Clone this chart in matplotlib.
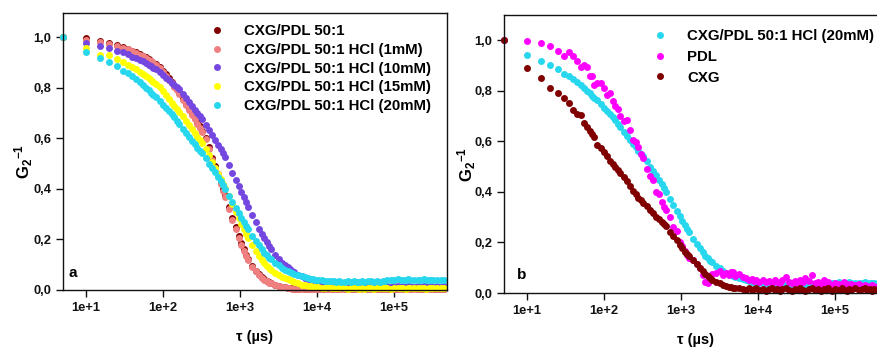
import matplotlib
matplotlib.use("Agg")
import matplotlib.pyplot as plt
from matplotlib.ticker import FixedLocator, FixedFormatter

plt.rcParams['font.family'] = ['Liberation Sans', 'DejaVu Sans']
plt.rcParams['font.weight'] = 'bold'
plt.rcParams['mathtext.fontset'] = 'custom'
plt.rcParams['mathtext.bf'] = 'Liberation Sans:bold'
plt.rcParams['mathtext.rm'] = 'Liberation Sans:bold'

# lag times (µs) of the correlator channels
tau = [5, 10, 15, 20, 25, 30, 35, 40, 45, 50, 55, 60, 65, 70, 75, 80,
       90, 100, 110, 120, 130, 140, 150, 160,
       180, 200, 220, 240, 260, 280, 300, 320,
       360, 400, 440, 480, 520, 560, 600, 640,
       720, 800, 880, 960, 1040, 1120, 1200, 1280,
       1440, 1600, 1760, 1920, 2080, 2240, 2400, 2560,
       2880, 3200, 3520, 3840, 4160, 4480, 4800, 5120,
       5760, 6400, 7040, 7680, 8320, 8960, 9600, 10240,
       11520, 12800, 14080, 15360, 16640, 17920, 19200, 20480,
       23040, 25600, 28160, 30720, 33280, 35840, 38400, 40960,
       46080, 51200, 56320, 61440, 66560, 71680, 76800, 81920,
       92160, 102400, 112640, 122880, 133120, 143360, 153600, 163840,
       184320, 204800, 225280, 245760, 266240, 286720, 307200, 327680,
       368640, 409600, 450560]

# normalised correlation functions G2-1
g_50_1 = [1.000, .995, .983, .975, .967, .959, .952, .946, .939, .932, .926, .920, .913, .906, .899, .893,
          .880, .866, .852, .837, .823, .808, .794, .780,
          .758, .737, .717, .699, .681, .664, .647, .630,
          .602, .566, .523, .489, .457, .428, .401, .376,
          .328, .286, .248, .214, .186, .161, .140, .123,
          .096, .077, .062, .051, .042, .035, .030, .026,
          .020, .016, .012, .010, .008, .007, .006, .005,
          .004, .006, .003, .005, .002, .004, .006, .003,
          .005, .003, .006, .004, .002, .005, .003, .006,
          .004, .002, .005, .003, .006, .004, .002, .005,
          .003, .006, .004, .002, .005, .003, .006, .004,
          .002, .005, .003, .006, .004, .002, .005, .003,
          .006, .004, .002, .005, .003, .006, .004, .002,
          .005, .003, .004]

g_hcl_1 = [1.000, .990, .982, .974, .966, .958, .951, .945, .938, .930, .924, .918, .911, .904, .897, .890,
           .876, .862, .847, .832, .818, .803, .789, .775,
           .752, .730, .710, .692, .674, .657, .640, .623,
           .595, .558, .515, .481, .449, .420, .393, .368,
           .320, .278, .240, .207, .179, .155, .135, .118,
           .092, .074, .060, .049, .040, .034, .029, .026,
           .020, .015, .012, .010, .008, .006, .005, .004,
           .003, .003, .002, .003, .002, .002, .003, .002,
           .002, .003, .002, .002, .003, .002, .002, .003,
           .002, .003, .002, .002, .003, .002, .003, .002,
           .002, .003, .002, .002, .003, .002, .002, .003,
           .002, .003, .002, .003, .002, .002, .003, .002,
           .002, .003, .002, .002, .003, .002, .003, .002,
           .002, .003, .002]

g_hcl_10 = [1.000, .975, .964, .955, .946, .939, .931, .923, .917, .910, .904, .897, .890, .884, .878, .872,
            .861, .850, .839, .829, .819, .810, .801, .793,
            .775, .758, .742, .728, .713, .700, .687, .675,
            .652, .631, .611, .592, .574, .557, .541, .526,
            .495, .462, .436, .410, .388, .366, .346, .328,
            .295, .267, .243, .222, .204, .188, .174, .161,
            .139, .121, .107, .097, .089, .082, .076, .070,
            .061, .054, .048, .044, .040, .037, .034, .032,
            .029, .026, .024, .022, .020, .019, .018, .017,
            .016, .015, .016, .014, .015, .013, .016, .014,
            .015, .013, .014, .016, .013, .015, .014, .016,
            .013, .015, .014, .012, .015, .013, .016, .014,
            .013, .015, .012, .014, .016, .013, .015, .012,
            .014, .013, .015]

g_hcl_15 = [1.000, .955, .928, .929, .912, .900, .888, .882, .872, .862, .852, .846, .838, .830, .822, .815,
            .803, .785, .770, .755, .741, .728, .716, .704,
            .686, .668, .652, .636, .621, .606, .592, .580,
            .556, .533, .505, .482, .459, .438, .419, .402,
            .370, .338, .310, .283, .260, .240, .222, .206,
            .178, .155, .136, .120, .107, .096, .087, .079,
            .066, .060, .053, .047, .042, .038, .034, .031,
            .026, .021, .018, .016, .014, .012, .011, .010,
            .009, .008, .010, .007, .009, .006, .008, .010,
            .007, .005, .008, .006, .009, .004, .007, .005,
            .006, .008, .005, .007, .009, .006, .008, .007,
            .005, .008, .006, .009, .007, .005, .008, .006,
            .007, .009, .006, .008, .005, .007, .009, .006,
            .008, .006, .007]

g_hcl_20 = [1.000, .940, .916, .901, .884, .866, .857, .845, .834, .822, .810, .800, .791, .779, .770, .761,
            .748, .732, .720, .706, .694, .682, .670, .658,
            .638, .620, .604, .590, .576, .562, .550, .540,
            .520, .500, .482, .466, .448, .430, .414, .399,
            .372, .348, .325, .304, .286, .269, .254, .240,
            .215, .194, .176, .161, .148, .137, .128, .121,
            .108, .097, .088, .081, .075, .070, .066, .063,
            .058, .054, .050, .047, .045, .043, .041, .040,
            .038, .037, .036, .034, .035, .033, .034, .032,
            .033, .035, .032, .034, .031, .033, .035, .032,
            .034, .036, .033, .035, .032, .034, .036, .040,
            .041, .039, .042, .040, .041, .039, .042, .040,
            .041, .039, .040, .042, .039, .041, .040, .038,
            .040, .039, .041]

g_pdl = [1.000, .996, .990, .978, .955, .937, .953, .938, .917, .895, .900, .892, .856, .858, .823, .829,
         .829, .810, .783, .789, .760, .740, .728, .700,
         .680, .683, .645, .605, .598, .578, .550, .535,
         .490, .462, .445, .400, .390, .360, .340, .330,
         .300, .260, .245, .200, .185, .165, .150, .140,
         .130, .115, .100, .070, .042, .040, .060, .075,
         .078, .085, .072, .078, .070, .082, .084, .068,
         .075, .062, .058, .050, .055, .048, .052, .045,
         .050, .042, .048, .040, .052, .045, .038, .050,
         .062, .044, .040, .046, .035, .052, .042, .058,
         .048, .070, .040, .045, .035, .050, .038, .044,
         .032, .040, .036, .030, .042, .034, .028, .036,
         .030, .034, .026, .030, .028, .024, .030, .025,
         .028, .024, .026]

g_cxg = [1.000, .890, .851, .812, .789, .772, .751, .725, .708, .704, .673, .657, .640, .627, .616, .585,
         .574, .556, .540, .522, .508, .497, .485, .475,
         .460, .443, .422, .404, .390, .376, .366, .356,
         .343, .328, .315, .302, .292, .280, .272, .265,
         .242, .225, .208, .190, .176, .162, .153, .145,
         .130, .114, .098, .088, .075, .066, .058, .051,
         .042, .038, .032, .028, .025, .022, .020, .019,
         .018, .016, .012, .018, .010, .015, .020, .012,
         .016, .008, .014, .019, .011, .017, .009, .015,
         .020, .012, .006, .016, .010, .018, .013, .008,
         .015, .021, .010, .014, .007, .017, .012, .019,
         .009, .016, .013, .020, .011, .008, .015, .012,
         .018, .010, .014, .019, .012, .016, .009, .015,
         .013, .017, .011]

labels_a = ['CXG/PDL 50:1', 'CXG/PDL 50:1 HCl (1mM)', 'CXG/PDL 50:1 HCl (10mM)',
            'CXG/PDL 50:1 HCl (15mM)', 'CXG/PDL 50:1 HCl (20mM)']
labels_b = ['CXG/PDL 50:1 HCl (20mM)', 'PDL', 'CXG']
xtick_vals = [1e1, 1e2, 1e3, 1e4, 1e5]
xtick_labels = ['1e+1', '1e+2', '1e+3', '1e+4', '1e+5']
ytick_vals = [0.0, 0.2, 0.4, 0.6, 0.8, 1.0]
ytick_labels = ['0,0', '0,2', '0,4', '0,6', '0,8', '1,0']

c_dark = '#800000'
c_salmon = '#F08080'
c_purple = '#7447E0'
c_yellow = '#FFFF00'
c_cyan = '#26D7EE'
c_magenta = '#FF00FF'

W, H = 878, 347
fig = plt.figure(figsize=(W / 100, H / 100), dpi=100)

ax_a = fig.add_axes([63 / W, (H - 290) / H, 384 / W, 277 / H])
ax_b = fig.add_axes([504 / W, (H - 293) / H, 384 / W, 278 / H])

ms = 5.0
series_a = [(g_50_1, c_dark), (g_hcl_1, c_salmon), (g_hcl_10, c_purple),
            (g_hcl_15, c_yellow), (g_hcl_20, c_cyan)]
for (vals, col), lab in zip(series_a, labels_a):
    ax_a.plot(tau, vals, 'o', ms=ms, mew=0, color=col, label=lab, clip_on=False)

series_b = [(g_hcl_20, c_cyan), (g_pdl, c_magenta), (g_cxg, c_dark)]
for (vals, col), lab in zip(series_b, labels_b):
    ax_b.plot(tau, vals, 'o', ms=ms, mew=0, color=col, label=lab, clip_on=False)

for ax, ytop in ((ax_a, 1.095), (ax_b, 1.099)):
    ax.set_xscale('log')
    ax.set_xlim(5, 4.94e5)
    ax.set_ylim(0, ytop)
    ax.xaxis.set_major_locator(FixedLocator(xtick_vals))
    ax.xaxis.set_major_formatter(FixedFormatter(xtick_labels))
    ax.xaxis.set_minor_locator(FixedLocator([]))
    ax.yaxis.set_major_locator(FixedLocator(ytick_vals))
    ax.yaxis.set_major_formatter(FixedFormatter(ytick_labels))
    ax.tick_params(direction='out', length=5, width=1, labelsize=9.3, pad=3.5,
                   colors='#111111')
    for s in ax.spines.values():
        s.set_linewidth(1.0)
        s.set_color('#111111')
    for t in ax.get_xticklabels() + ax.get_yticklabels():
        t.set_fontweight('bold')

leg_kw = dict(loc='upper left', bbox_transform=fig.transFigure, frameon=False,
              borderpad=0, borderaxespad=0, handlelength=1.0, handletextpad=1.3,
              numpoints=1, prop={'weight': 'bold', 'size': 10.8})
ax_a.legend(bbox_to_anchor=(209.5 / W, 1 - 24 / H), labelspacing=0.32, **leg_kw)
ax_b.legend(bbox_to_anchor=(652.5 / W, 1 - 29 / H), labelspacing=0.45, **leg_kw)

ylab = r'$\mathbf{G_2{}^{-1}}$'
fig.text(24 / W, 1 - 161 / H, ylab, rotation=90, ha='center', va='center', fontsize=12)
fig.text(467 / W, 1 - 164 / H, ylab, rotation=90, ha='center', va='center', fontsize=12)

fig.text(255 / W, 1 - 337 / H, 'τ (µs)', ha='center', va='center', fontsize=10.5,
         fontweight='bold')
fig.text(696 / W, 1 - 340 / H, 'τ (µs)', ha='center', va='center', fontsize=10.5,
         fontweight='bold')

fig.text(73 / W, 1 - 273 / H, 'a', ha='center', va='center', fontsize=11, fontweight='bold')
fig.text(522 / W, 1 - 275 / H, 'b', ha='center', va='center', fontsize=11, fontweight='bold')

fig.savefig('out.png', dpi=100)
